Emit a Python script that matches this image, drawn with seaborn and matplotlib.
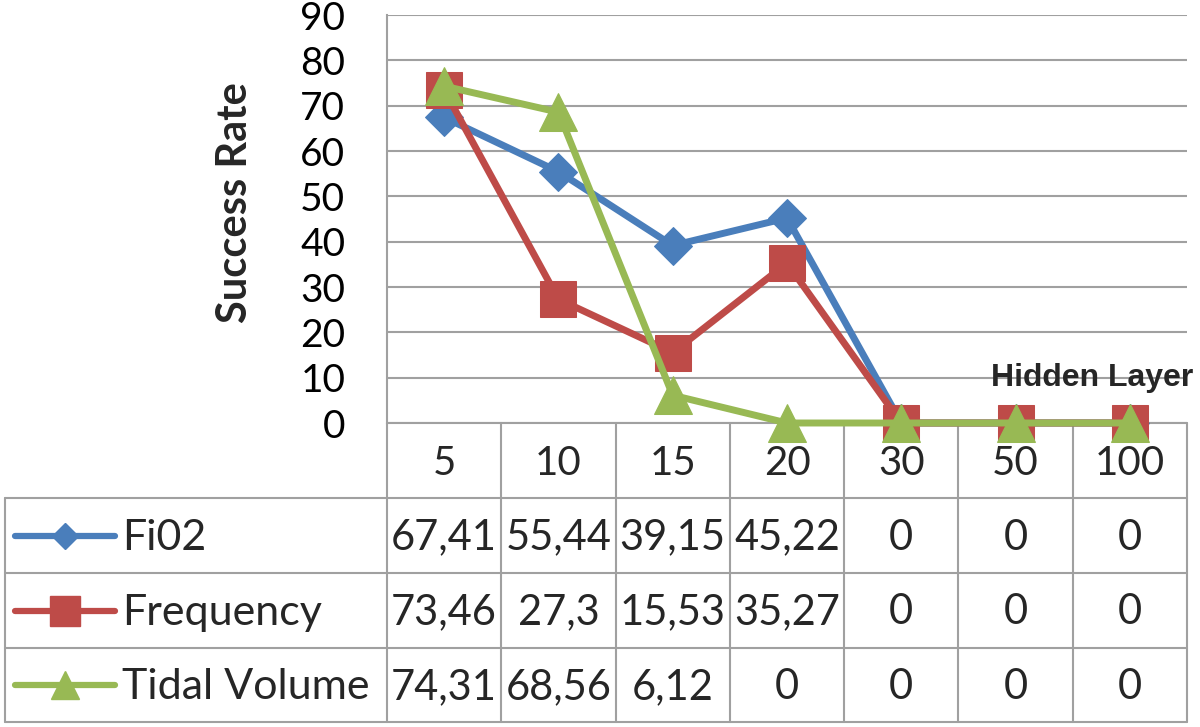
import pandas as pd
import matplotlib.pyplot as plt
import seaborn as sns
from matplotlib.lines import Line2D

# Chart data (success rate per hidden layer size)
categories = ['5', '10', '15', '20', '30', '50', '100']
series_names = ['Fi02', 'Frequency', 'Tidal Volume']
fio2 = [67.41, 55.44, 39.15, 45.22, 0, 0, 0]
frequency = [73.46, 27.3, 15.53, 35.27, 0, 0, 0]
tidal_volume = [74.31, 68.56, 6.12, 0, 0, 0, 0]
yticks = [0, 10, 20, 30, 40, 50, 60, 70, 80, 90]

colors = ['#4A7EBB', '#BE4B48', '#98B954']
markers = ['D', 's', '^']
marker_sizes = [19, 26, 27]

sns.set_theme(style='white')
plt.rcParams['font.family'] = ['Lato', 'DejaVu Sans']

# long-form frame for seaborn
values = [fio2, frequency, tidal_volume]
rows = []
for name, vals in zip(series_names, values):
    for i, v in enumerate(vals):
        rows.append({'pos': i, 'rate': v, 'series': name})
df = pd.DataFrame(rows)

W, H = 1200, 727
fig = plt.figure(figsize=(W / 100, H / 100), dpi=100)

# pixel layout
left, right, top, zero = 387, 1187, 15, 423
col_w = (right - left) / len(categories)
row_lines = [498, 573, 648, 722]
grid_col = '#A0A0A0'

# table axes in pixel coordinates
ax_t = fig.add_axes([0, 0, 1, 1])
ax_t.set_xlim(0, W)
ax_t.set_ylim(H, 0)
ax_t.axis('off')

# chart axes
ax = fig.add_axes([left / W, 1 - zero / H, (right - left) / W, (zero - top) / H])
ax.set_facecolor('none')

for name, c, m, ms in zip(series_names, colors, markers, marker_sizes):
    sub = df[df['series'] == name]
    sns.lineplot(data=sub, x='pos', y='rate', color=c, marker=m, markersize=ms,
                 markeredgecolor=c, linewidth=5, ax=ax, legend=False, clip_on=False)

ax.set_xlim(-0.5, len(categories) - 0.5)
ax.set_ylim(0, 90)
ax.set_yticks(yticks)
ax.set_xticks([])
ax.set_xlabel('')
ax.set_ylabel('')
ax.yaxis.grid(True, color=grid_col, linewidth=1.5)
ax.set_axisbelow(True)
for s in ['top', 'right', 'bottom']:
    ax.spines[s].set_visible(False)
ax.spines['left'].set_color(grid_col)
ax.spines['left'].set_linewidth(1.5)
ax.tick_params(axis='y', length=0, pad=30, labelsize=28, labelcolor='black')

ax.text(-0.19, 0.54, 'Success Rate', transform=ax.transAxes, rotation=90,
        ha='center', va='center', fontsize=30, fontweight='bold')
ax.text(1.008, 10 / 90, 'Hidden Layer', transform=ax.transAxes, ha='right', va='center',
        fontsize=23, fontweight='bold', family=['Liberation Sans', 'DejaVu Sans'])

# data table grid
for k in range(len(categories) + 1):
    x = left + k * col_w
    ax_t.plot([x, x], [zero, row_lines[-1]], color=grid_col, lw=1.5)
ax_t.plot([left, right], [zero, zero], color=grid_col, lw=1.5)
for y in row_lines:
    ax_t.plot([5, right], [y, y], color=grid_col, lw=1.5)
ax_t.plot([5, 5], [row_lines[0], row_lines[-1]], color=grid_col, lw=1.5)

# header row
for k, cat in enumerate(categories):
    ax_t.text(left + (k + 0.5) * col_w, (zero + row_lines[0]) / 2 + 3, cat,
              ha='center', va='center', fontsize=29)

# data rows with legend keys
for r, (name, vals, c, m) in enumerate(zip(series_names, values, colors, markers)):
    yc = (row_lines[r] + row_lines[r + 1]) / 2
    ms = {'D': 13, 's': 22, '^': 20}[m]
    key = Line2D([15, 115], [yc, yc], color=c, lw=4.5, solid_capstyle='round')
    ax_t.add_line(key)
    ax_t.plot([65], [yc], marker=m, color=c, markersize=ms, markeredgecolor=c)
    ax_t.text(122, yc + 2, name, ha='left', va='center', fontsize=31)
    for k, v in enumerate(vals):
        label = f'{v:g}'.replace('.', ',')
        ax_t.text(left + (k + 0.5) * col_w, yc + 2, label, ha='center', va='center', fontsize=30)

plt.savefig('out.png', dpi=100)
